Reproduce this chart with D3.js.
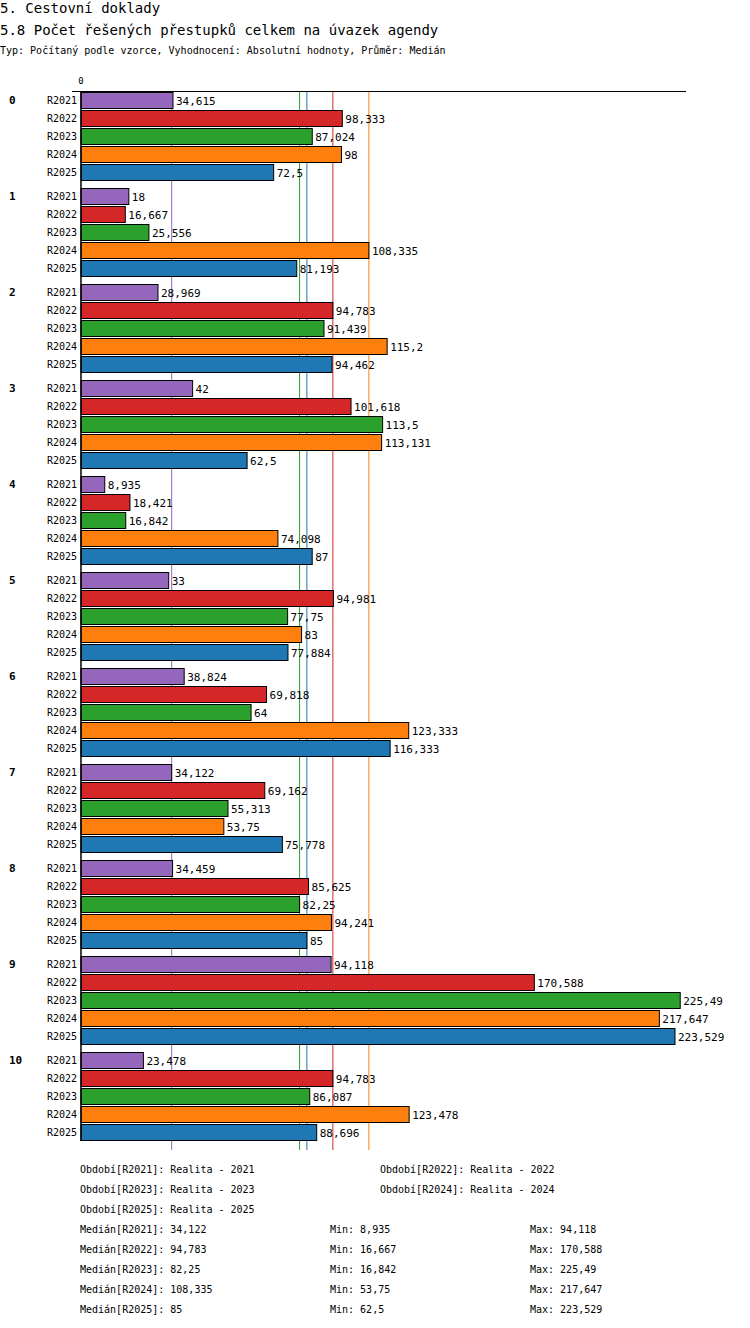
<!DOCTYPE html>
<html>
<head>
<meta charset="utf-8">
<script src="https://d3js.org/d3.v7.min.js"></script>
<style>
  body { margin: 0; background: #fff; }
  text { font-family: "DejaVu Sans Mono", monospace; }
</style>
</head>
<body>
<div id="chart"></div>
<script>
var groups = ["0", "1", "2", "3", "4", "5", "6", "7", "8", "9", "10"];
var periods = ["R2021", "R2022", "R2023", "R2024", "R2025"];
var colors = ["#9467bd", "#d62728", "#2ca02c", "#ff7f0e", "#1f77b4"];
var v2021 = [34.615, 18, 28.969, 42, 8.935, 33, 38.824, 34.122, 34.459, 94.118, 23.478];
var v2022 = [98.333, 16.667, 94.783, 101.618, 18.421, 94.981, 69.818, 69.162, 85.625, 170.588, 94.783];
var v2023 = [87.024, 25.556, 91.439, 113.5, 16.842, 77.75, 64, 55.313, 82.25, 225.49, 86.087];
var v2024 = [98, 108.335, 115.2, 113.131, 74.098, 83, 123.333, 53.75, 94.241, 217.647, 123.478];
var v2025 = [72.5, 81.193, 94.462, 62.5, 87, 77.884, 116.333, 75.778, 85, 223.529, 88.696];
var series = [v2021, v2022, v2023, v2024, v2025];
var medians = [34.122, 94.783, 82.25, 108.335, 85];
var mins = [8.935, 16.667, 16.842, 53.75, 62.5];
var maxs = [94.118, 170.588, 225.49, 217.647, 223.529];
var legendNames = ["Realita - 2021", "Realita - 2022", "Realita - 2023", "Realita - 2024", "Realita - 2025"];

function fmt(v) { return String(+v.toFixed(3)).replace(".", ","); }

var svg = d3.select("#chart").append("svg").attr("width", 750).attr("height", 1328);

svg.append("text").attr("x", 0).attr("y", 13).attr("font-size", 14).text("5. Cestovní doklady");
svg.append("text").attr("x", 0).attr("y", 35).attr("font-size", 14).text("5.8 Počet řešených přestupků celkem na úvazek agendy");
svg.append("text").attr("x", 0).attr("y", 54).attr("font-size", 10).text("Typ: Počítaný podle vzorce, Vyhodnocení: Absolutní hodnoty, Průměr: Medián");

var x = d3.scaleLinear().domain([0, 223.529]).range([81, 675]);
var groupStep = 96, rowStep = 18, top0 = 92;
function rowY(g, p) { return top0 + g * groupStep + p * rowStep; }

svg.append("text").attr("x", x(0)).attr("y", 84).attr("font-size", 9).attr("text-anchor", "middle").text("0");

var rows = [];
groups.forEach(function (g, gi) {
  periods.forEach(function (p, pi) {
    rows.push({ g: gi, p: pi, v: series[pi][gi] });
  });
});

// median lines
svg.selectAll("line.med").data(medians).enter().append("line")
  .attr("x1", function (d) { return x(d); }).attr("x2", function (d) { return x(d); })
  .attr("y1", 91).attr("y2", 1150)
  .attr("stroke", function (d, i) { return colors[i]; }).attr("stroke-width", 1);

svg.selectAll("rect.bar").data(rows).enter().append("rect")
  .attr("x", x(0)).attr("y", function (d) { return rowY(d.g, d.p) + 0.5; })
  .attr("width", function (d) { return x(d.v) - x(0); }).attr("height", 16)
  .attr("fill", function (d) { return colors[d.p]; })
  .attr("stroke", "#000").attr("stroke-width", 1);

svg.selectAll("text.val").data(rows).enter().append("text")
  .attr("x", function (d) { return x(d.v) + 3; }).attr("y", function (d) { return rowY(d.g, d.p) + 13; })
  .attr("font-size", 11).text(function (d) { return fmt(d.v); });

svg.selectAll("text.per").data(rows).enter().append("text")
  .attr("x", 77).attr("y", function (d) { return rowY(d.g, d.p) + 12; })
  .attr("font-size", 10).attr("text-anchor", "end").text(function (d) { return periods[d.p]; });

svg.selectAll("text.grp").data(groups).enter().append("text")
  .attr("x", 9).attr("y", function (d, i) { return rowY(i, 0) + 12; })
  .attr("font-size", 11).attr("font-weight", "bold").text(function (d) { return d; });

svg.append("line").attr("x1", 72).attr("x2", 686).attr("y1", 91.5).attr("y2", 91.5).attr("stroke", "#000");
svg.append("line").attr("x1", 81).attr("x2", 81).attr("y1", 91).attr("y2", 1141).attr("stroke", "#000").attr("stroke-width", 1.5);

// legend
var leg = svg.append("g").attr("font-size", 10);
periods.forEach(function (p, i) {
  leg.append("text").attr("x", i % 2 ? 380 : 80).attr("y", 1173 + Math.floor(i / 2) * 20)
    .text("Období[" + p + "]: " + legendNames[i]);
});
periods.forEach(function (p, i) {
  var y = 1233 + i * 20;
  leg.append("text").attr("x", 80).attr("y", y).text("Medián[" + p + "]: " + fmt(medians[i]));
  leg.append("text").attr("x", 330).attr("y", y).text("Min: " + fmt(mins[i]));
  leg.append("text").attr("x", 530).attr("y", y).text("Max: " + fmt(maxs[i]));
});
</script>
</body>
</html>
